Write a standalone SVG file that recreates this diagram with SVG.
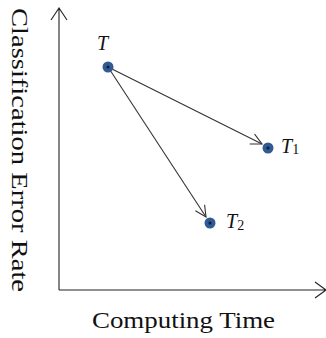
<svg xmlns="http://www.w3.org/2000/svg" width="326" height="338" viewBox="0 0 326 338">
<defs>
<style>
.ax{stroke:#222;stroke-width:1.1;fill:none}
.con{stroke:#333;stroke-width:1.1;fill:none}
.lbl{font-family:"Liberation Serif",serif;fill:#111}
.it{font-family:"Liberation Serif",serif;font-style:italic;fill:#111}
.dot{fill:#2f5a94}
.ctr{fill:#0d1a33}
</style>
<marker id="open" markerWidth="14" markerHeight="14" refX="12" refY="7" orient="auto" markerUnits="userSpaceOnUse">
<path d="M1,1.5 L12,7 L1,12.5" fill="none" stroke="#333" stroke-width="1.1"/>
</marker>
</defs>
<rect width="326" height="338" fill="#fff"/>
<g id="axes">
<path class="ax" d="M59,290 L59,8 M51,20 L59,8 L67,20"/>
<path class="ax" d="M59,290 L325,290 M315,282 L326,290 L315,298"/>
<text class="lbl" font-size="24" textLength="284" lengthAdjust="spacingAndGlyphs" transform="translate(11.5,8) rotate(90)">Classification Error Rate</text>
<text class="lbl" font-size="24" x="92" y="328" textLength="183" lengthAdjust="spacingAndGlyphs">Computing Time</text>
</g>
<g id="connectors">
<line class="con" x1="108" y1="67" x2="262" y2="144" marker-end="url(#open)"/>
<line class="con" x1="108" y1="67" x2="206" y2="217" marker-end="url(#open)"/>
</g>
<g id="T">
<circle class="dot" cx="108" cy="67" r="5.5"/><circle class="ctr" cx="108" cy="67" r="1.5"/>
<text class="it" font-size="20" x="97" y="50">T</text>
</g>
<g id="T1">
<circle class="dot" cx="268" cy="148" r="5.5"/><circle class="ctr" cx="268" cy="148" r="1.5"/>
<text class="it" font-size="20" x="281" y="153">T<tspan font-style="normal" font-size="14" dy="1">1</tspan></text>
</g>
<g id="T2">
<circle class="dot" cx="210" cy="223" r="5.5"/><circle class="ctr" cx="210" cy="223" r="1.5"/>
<text class="it" font-size="20" x="226" y="228">T<tspan font-style="normal" font-size="14" dy="1.5">2</tspan></text>
</g>
</svg>
